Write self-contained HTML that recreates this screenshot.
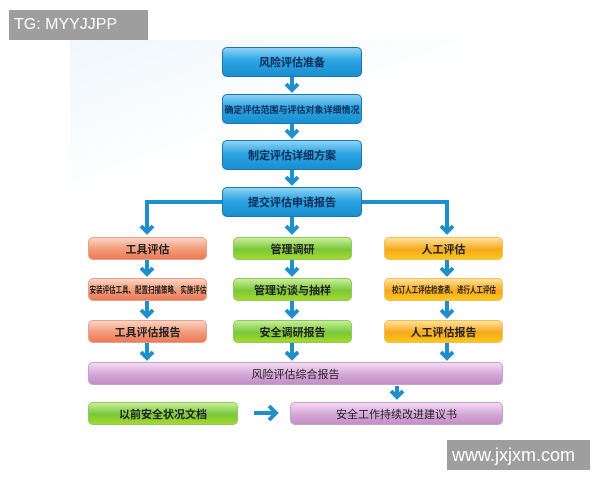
<!DOCTYPE html>
<html><head><meta charset="utf-8"><style>
body{margin:0;width:600px;height:480px;background:#fff;position:relative;overflow:hidden;font-family:"Liberation Sans","Noto Sans CJK SC",sans-serif}
.b{position:absolute;border-radius:5px;display:flex;align-items:center;justify-content:center;font-weight:bold;color:#222;font-size:11px;box-sizing:border-box;white-space:nowrap}
.blue{background:linear-gradient(#8fd3f5,#2ba4e2 45%,#1a8fd0);border:1px solid #1878b5;color:#0b2a55}
.red{background:linear-gradient(#fbd3c4,#f39a78 55%,#eb7a58);border:1px solid #e9a08a}
.grn{background:linear-gradient(#c9ee9a,#78c83a 55%,#a6d82a);border:1px solid #8ec860}
.yel{background:linear-gradient(#ffe39a,#f8a81c 55%,#f7c81a);border:1px solid #f0c060}
.pur{background:linear-gradient(#f3dcf3,#d4a6d8 55%,#c48ec8);border:1px solid #c9a0cd}
.sm{font-size:9px}
.sm span{display:inline-block;transform:scaleX(0.72)}
.wm{position:absolute;background:#9e9e9e;color:#fff;font-size:19px;display:flex;align-items:center;padding-left:5px;box-sizing:border-box}
</style></head><body>
<div style="position:absolute;left:70px;top:40px;width:450px;height:400px;background:linear-gradient(160deg,#f0f7fc,#fff 30%,#fff)"></div>
<svg width="600" height="480" style="position:absolute;left:0;top:0">
<g stroke="#1f8fcc" stroke-width="4" fill="none" stroke-linejoin="miter">
<path d="M292 77v13M286 84l6 6 6-6"/>
<path d="M292 124v12M286 130l6 6 6-6"/>
<path d="M292 170v13M286 177l6 6 6-6"/>
<path d="M222 202H147v30M141 226l6 6 6-6"/>
<path d="M362 202H447v30M441 226l6 6 6-6"/>
<path d="M292 217v15M286 226l6 6 6-6"/>
<g id="c">
<path d="M147 260v14M141 268l6 6 6-6"/>
<path d="M147 301v15M141 310l6 6 6-6"/>
<path d="M147 343v15M141 352l6 6 6-6"/>
</g>
<use href="#c" x="145"/>
<use href="#c" x="300"/>
<path d="M397 386v11M391 391l6 6 6-6"/>
<path d="M254 413h22M269 406l7 7-7 7"/>
</g></svg>
<div class="wm" style="left:9px;top:10px;width:139px;height:30px;font-size:16px">TG: MYYJJPP</div>
<div class="wm" style="left:447px;top:440px;width:143px;height:30px;font-size:18px">www.jxjxm.com</div>
<div class="b blue" style="left:222px;top:47px;width:140px;height:30px">风险评估准备</div>
<div class="b blue" style="left:222px;top:94px;width:140px;height:30px;font-size:9px">确定评估范围与评估对象详细情况</div>
<div class="b blue" style="left:222px;top:140px;width:140px;height:30px">制定评估详细方案</div>
<div class="b blue" style="left:222px;top:187px;width:140px;height:30px">提交评估申请报告</div>
<div class="b red" style="left:88px;top:237px;width:119px;height:23px">工具评估</div>
<div class="b red sm" style="left:88px;top:278px;width:119px;height:23px"><span>安装评估工具、配置扫描策略、实施评估</span></div>
<div class="b red" style="left:88px;top:320px;width:119px;height:23px">工具评估报告</div>
<div class="b grn" style="left:233px;top:237px;width:119px;height:23px">管理调研</div>
<div class="b grn" style="left:233px;top:278px;width:119px;height:23px">管理访谈与抽样</div>
<div class="b grn" style="left:233px;top:320px;width:119px;height:23px">安全调研报告</div>
<div class="b yel" style="left:384px;top:237px;width:119px;height:23px">人工评估</div>
<div class="b yel sm" style="left:384px;top:278px;width:119px;height:23px"><span>校订人工评估检查表、进行人工评估</span></div>
<div class="b yel" style="left:384px;top:320px;width:119px;height:23px">人工评估报告</div>
<div class="b pur" style="left:88px;top:362px;width:415px;height:23px;font-weight:normal">风险评估综合报告</div>
<div class="b grn" style="left:88px;top:402px;width:150px;height:23px">以前安全状况文档</div>
<div class="b pur" style="left:290px;top:402px;width:213px;height:23px;font-weight:normal">安全工作持续改进建议书</div>
</body></html>
